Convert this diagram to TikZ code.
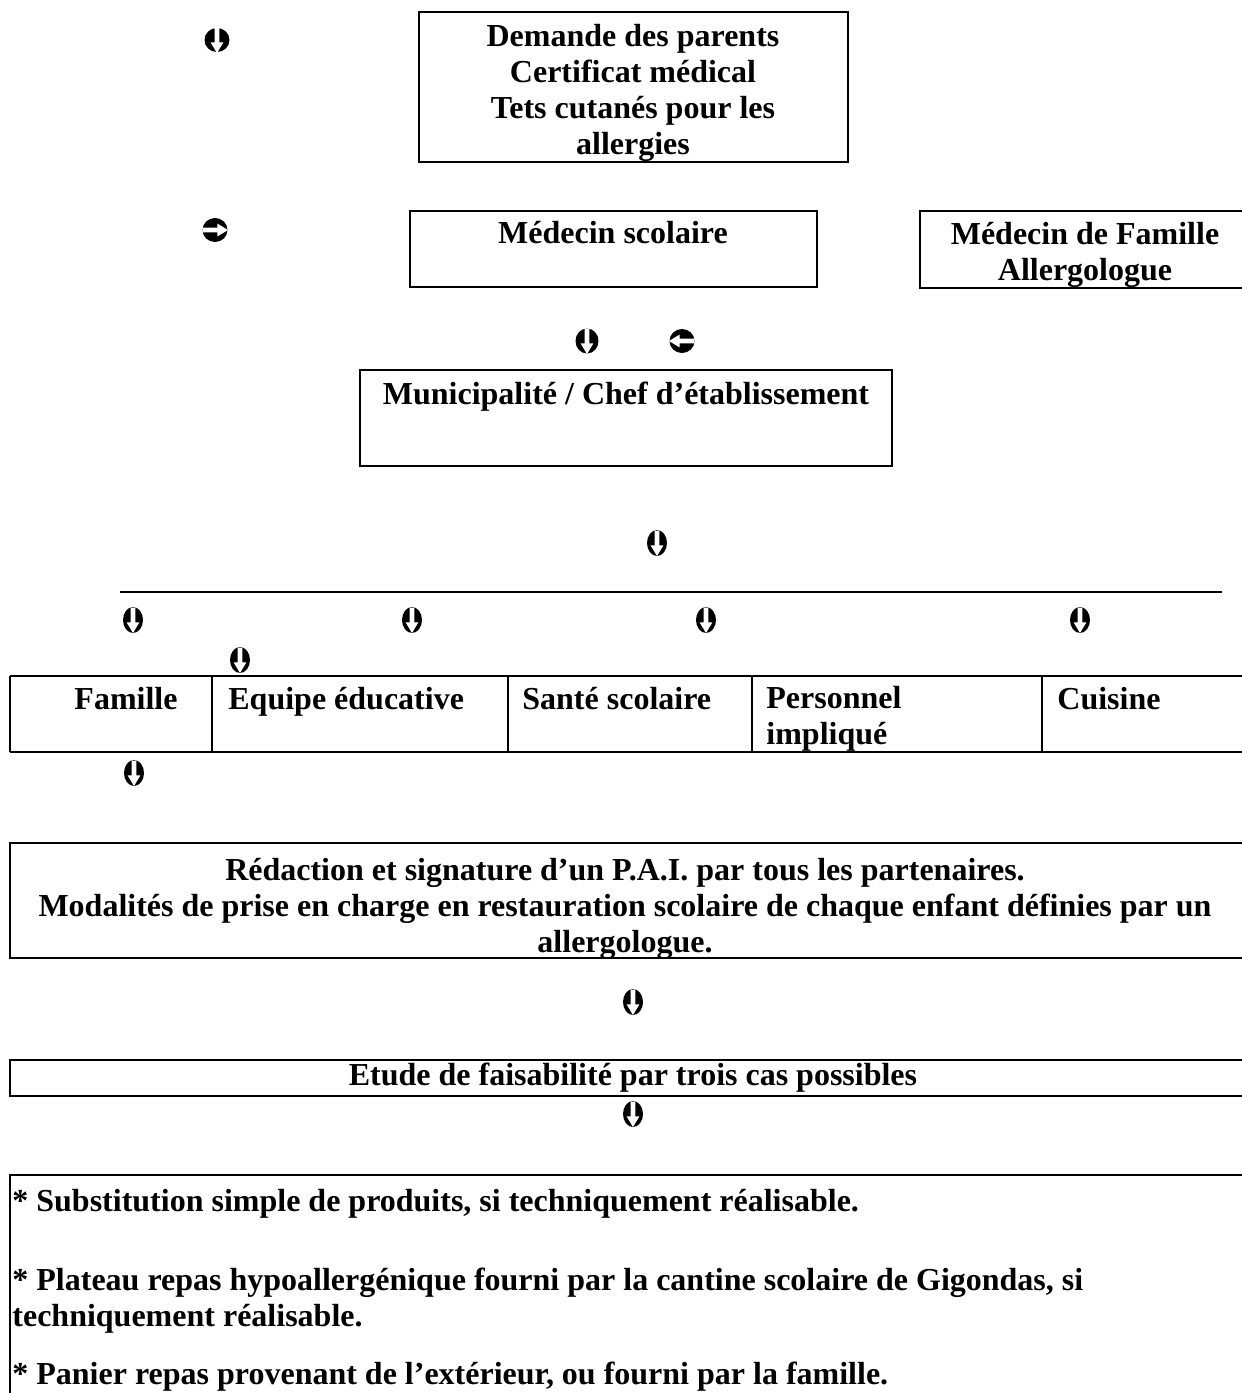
\documentclass[tikz,border=0pt]{standalone}
\usepackage{fontspec}
\setmainfont{Liberation Serif}
\usetikzlibrary{fit}
\usetikzlibrary{shapes.geometric}

\tikzset{
  box/.style={draw, line width=1pt, inner sep=0pt},
  txt/.style={font=\bfseries\fontsize{16}{18}\selectfont, inner sep=0pt, align=center},
  wing/.style={ellipse, fill=black, inner sep=0pt, minimum width=10pt, minimum height=13pt},
  round/.style={minimum width=12.5pt, minimum height=12pt},
}
% Round glyph with a white arrow: [angle]{name}{position}{options}.
\newcommand{\wingglyph}[4][0]{%
  \node[wing, #4] (#2) at (#3) {};
  \fill[white, shift={(#2.center)}, rotate=#1] (-1.2pt,6.2pt) -- (1.2pt,6.2pt) -- (1.2pt,-1.2pt)
    -- (3.2pt,-1.2pt) -- (0pt,-6.5pt) -- (-3.2pt,-1.2pt) -- (-1.2pt,-1.2pt) -- cycle;
}

\begin{document}
\begin{tikzpicture}[x=0.5pt, y=-0.5pt]
  \useasboundingbox (0,0) rectangle (1242,1393);
  % Request box.
  \node[box, fit={(419,12) (848,162)}] (dem) {};
  \node[txt, anchor=north] (demtxt) at (633,24) {Demande des parents\\Certificat médical\\Tets cutanés pour les\\allergies};
  \wingglyph{w1}{217,40}{round}
  % Doctors.
  \wingglyph[90]{w2}{215,230}{round}
  \node[box, fit={(410,211) (817,287)}] (msco) {};
  \node[txt, anchor=base] (mscotxt) at (613,243) {Médecin scolaire};
  \node[box, fit={(920,211) (1260,288)}] (mfam) {};
  \node[txt, anchor=north] (mfamtxt) at (1085,222) {Médecin de Famille\\Allergologue};
  \wingglyph{w3}{587,341}{minimum width=11.5pt, minimum height=12.5pt}
  \wingglyph[-90]{w4}{682,341}{round}
  % Municipality.
  \node[box, fit={(360,370) (892,466)}] (mun) {};
  \node[txt, anchor=base] (muntxt) at (626,404) {Municipalité / Chef d’établissement};
  \wingglyph{w5}{657,543}{}
  % Partners.
  \draw[line width=1pt] (120,592) -- (1222,592);
  \wingglyph{p1}{133,620}{}
  \wingglyph{p2}{412,620}{}
  \wingglyph{p3}{706,620}{}
  \wingglyph{p4}{1080,620}{}
  \wingglyph{w6}{240,660}{}
  \draw[line width=1pt] (10,676) -- (1260,676) (10,752) -- (1260,752);
  \foreach \x in {10,212,508,752,1042}
    \draw[line width=1pt] (\x,676) -- (\x,752);
  \node[txt, anchor=base] (fam) at (126,709) {Famille};
  \node[txt, anchor=base west] (equ) at (228,709) {Equipe éducative};
  \node[txt, anchor=base west] (san) at (522,709) {Santé scolaire};
  \node[txt, anchor=north west, align=left] (per) at (766,686) {Personnel\\impliqué};
  \node[txt, anchor=base west] (cui) at (1057,709) {Cuisine};
  \wingglyph{w7}{134,773}{}
  % PAI.
  \node[box, fit={(10,843) (1260,958)}] (pai) {};
  \node[txt, anchor=north] (paitxt) at (625,858) {Rédaction et signature d’un P.A.I. par tous les partenaires.\\Modalités de prise en charge en restauration scolaire de chaque enfant définies par un\\allergologue.};
  \wingglyph{w8}{633,1002}{}
  % Feasibility.
  \node[box, fit={(10,1060) (1260,1096)}] (etu) {};
  \node[txt, anchor=base] (etutxt) at (633,1085) {Etude de faisabilité par trois cas possibles};
  \wingglyph{w9}{633,1114}{}
  % Cases.
  \node[box, fit={(10,1175) (1260,1420)}] (cas) {};
  \node[txt, anchor=base west] (cas1) at (12,1211) {* Substitution simple de produits, si techniquement réalisable.};
  \node[txt, anchor=north west, align=left] (cas2) at (12,1268) {* Plateau repas hypoallergénique fourni par la cantine scolaire de Gigondas, si\\techniquement réalisable.};
  \node[txt, anchor=base west] (cas3) at (12,1384) {* Panier repas provenant de l’extérieur, ou fourni par la famille.};
\end{tikzpicture}
\end{document}
